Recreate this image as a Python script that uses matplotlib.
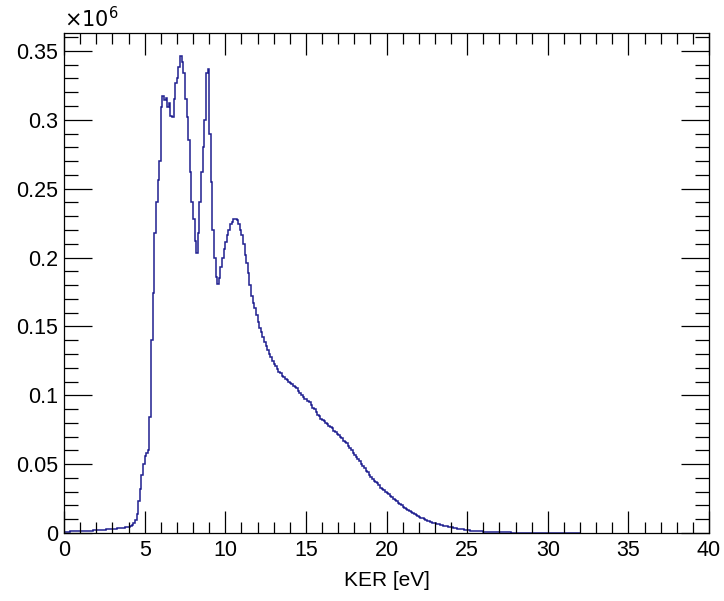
"""
KER spectrum, drawn as a ROOT-style step histogram.
"""

import matplotlib
matplotlib.use("Agg")
import matplotlib.pyplot as plt
import numpy as np
from matplotlib.ticker import MultipleLocator, FuncFormatter

matplotlib.rcParams.update({
    "font.family":     "sans-serif",
    "font.sans-serif": ["Liberation Sans", "DejaVu Sans"],
    "font.size":       15,
})

# ---------------------------------------------------------------------------
# Data: counts (x10^6) in 0.1 eV bins from 0 to 32 eV, one row per eV
# ---------------------------------------------------------------------------
BIN_LO    = 0.0
BIN_WIDTH = 0.1

counts_00_04 = [
    0.0010, 0.0010, 0.0011, 0.0011, 0.0012, 0.0012, 0.0013, 0.0013, 0.0014, 0.0014,
    0.0015, 0.0015, 0.0016, 0.0016, 0.0017, 0.0017, 0.0018, 0.0018, 0.0019, 0.0019,
    0.0020, 0.0021, 0.0022, 0.0023, 0.0024, 0.0025, 0.0026, 0.0027, 0.0028, 0.0029,
    0.0030, 0.0031, 0.0032, 0.0033, 0.0034, 0.0035, 0.0037, 0.0039, 0.0041, 0.0043,
]
counts_04_08 = [
    0.0046, 0.0052, 0.0060, 0.0072, 0.0095, 0.0140, 0.0230, 0.0320, 0.0420, 0.0500,
    0.0560, 0.0580, 0.0600, 0.0840, 0.1400, 0.1740, 0.2180, 0.2400, 0.2560, 0.2700,
    0.3090, 0.3170, 0.3140, 0.3160, 0.3090, 0.3120, 0.3030, 0.3020, 0.3150, 0.3270,
    0.3300, 0.3380, 0.3460, 0.3420, 0.3340, 0.3150, 0.3020, 0.2850, 0.2620, 0.2400,
]
counts_08_12 = [
    0.2280, 0.2120, 0.2030, 0.2180, 0.2400, 0.2620, 0.2800, 0.3000, 0.3340, 0.3370,
    0.2900, 0.2550, 0.2200, 0.2000, 0.1860, 0.1810, 0.1850, 0.1930, 0.2000, 0.2060,
    0.2110, 0.2160, 0.2200, 0.2240, 0.2260, 0.2280, 0.2280, 0.2270, 0.2240, 0.2200,
    0.2160, 0.2100, 0.2020, 0.1960, 0.1890, 0.1800, 0.1720, 0.1670, 0.1630, 0.1580,
]
counts_12_16 = [
    0.1530, 0.1490, 0.1460, 0.1420, 0.1390, 0.1360, 0.1330, 0.1300, 0.1280, 0.1250,
    0.1230, 0.1210, 0.1190, 0.1170, 0.1160, 0.1140, 0.1130, 0.1120, 0.1110, 0.1100,
    0.1090, 0.1080, 0.1070, 0.1060, 0.1050, 0.1030, 0.1020, 0.1000, 0.0990, 0.0970,
    0.0970, 0.0960, 0.0950, 0.0930, 0.0910, 0.0900, 0.0880, 0.0860, 0.0850, 0.0830,
]
counts_16_20 = [
    0.0820, 0.0810, 0.0800, 0.0790, 0.0780, 0.0770, 0.0760, 0.0740, 0.0730, 0.0720,
    0.0710, 0.0700, 0.0690, 0.0670, 0.0660, 0.0650, 0.0630, 0.0620, 0.0600, 0.0580,
    0.0570, 0.0550, 0.0540, 0.0520, 0.0500, 0.0490, 0.0470, 0.0450, 0.0440, 0.0420,
    0.0410, 0.0390, 0.0380, 0.0370, 0.0360, 0.0350, 0.0330, 0.0320, 0.0310, 0.0300,
]
counts_20_24 = [
    0.0290, 0.0280, 0.0270, 0.0260, 0.0250, 0.0240, 0.0230, 0.0220, 0.0210, 0.0200,
    0.0190, 0.0180, 0.0175, 0.0170, 0.0160, 0.0150, 0.0143, 0.0136, 0.0130, 0.0124,
    0.0118, 0.0112, 0.0106, 0.0100, 0.0095, 0.0090, 0.0085, 0.0080, 0.0076, 0.0074,
    0.0072, 0.0068, 0.0064, 0.0060, 0.0057, 0.0054, 0.0051, 0.0048, 0.0046, 0.0044,
]
counts_24_28 = [
    0.0042, 0.0039, 0.0036, 0.0034, 0.0032, 0.0030, 0.0028, 0.0026, 0.0024, 0.0022,
    0.0020, 0.0019, 0.0018, 0.0017, 0.0016, 0.0015, 0.0014, 0.0013, 0.0013, 0.0012,
    0.0011, 0.0011, 0.0010, 0.0009, 0.0009, 0.0008, 0.0008, 0.0007, 0.0007, 0.0006,
    0.0006, 0.0005, 0.0005, 0.0005, 0.0004, 0.0004, 0.0004, 0.0003, 0.0003, 0.0003,
]
counts_28_32 = [
    0.0003, 0.0003, 0.0002, 0.0002, 0.0002, 0.0002, 0.0002, 0.0002, 0.0002, 0.0002,
    0.0002, 0.0002, 0.0002, 0.0001, 0.0001, 0.0001, 0.0001, 0.0001, 0.0001, 0.0001,
    0.0001, 0.0001, 0.0001, 0.0001, 0.0001, 0.0001, 0.0001, 0.0001, 0.0001, 0.0001,
    0.0001, 0.0001, 0.0001, 0.0001, 0.0001, 0.0001, 0.0001, 0.0001, 0.0001, 0.0001,
]

counts = np.array(counts_00_04 + counts_04_08 + counts_08_12 + counts_12_16
                  + counts_16_20 + counts_20_24 + counts_24_28 + counts_28_32)
edges = BIN_LO + BIN_WIDTH * np.arange(len(counts) + 1)

LINE_COLOR = "#1f1f90"

# ---------------------------------------------------------------------------
# Plot
# ---------------------------------------------------------------------------
fig = plt.figure(figsize=(7.24, 6.01), dpi=100)
ax = fig.add_axes([0.0884, 0.1131, 0.8909, 0.832])

ax.stairs(counts, edges, color=LINE_COLOR, lw=1.1, baseline=0)

ax.set_xlim(0, 40)
ax.set_ylim(0, 0.363)

ax.xaxis.set_major_locator(MultipleLocator(5))
ax.xaxis.set_minor_locator(MultipleLocator(1))
ax.yaxis.set_major_locator(MultipleLocator(0.05))
ax.yaxis.set_minor_locator(MultipleLocator(0.01))
ax.yaxis.set_major_formatter(FuncFormatter(lambda v, _: f"{v:g}"))

ax.tick_params(which="both", direction="in", top=True, right=True,
               width=0.9, colors="black", labelsize=15.5)
ax.tick_params(axis="x", which="major", length=16, pad=5)
ax.tick_params(axis="x", which="minor", length=8)
ax.tick_params(axis="y", which="major", length=20, pad=4)
ax.tick_params(axis="y", which="minor", length=10)
for s in ax.spines.values():
    s.set_linewidth(0.9)

ax.set_xlabel("KER [eV]", fontsize=15, labelpad=7)
ax.text(0.0, 1.003, r"$\times10^{6}$", transform=ax.transAxes,
        fontsize=15, ha="left", va="bottom")

fig.savefig("out.png", dpi=100)
